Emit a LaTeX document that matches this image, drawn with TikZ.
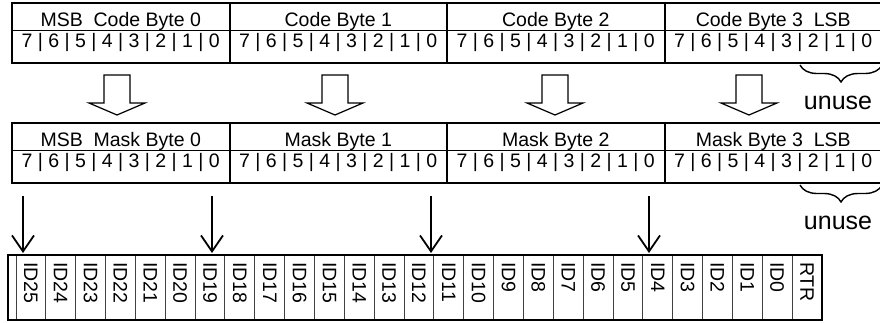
\documentclass[tikz,border=0pt]{standalone}
\usepackage{fontspec}
\setmainfont{Liberation Sans}
\usetikzlibrary{positioning, arrows.meta, decorations.pathreplacing}

\begin{document}
\begin{tikzpicture}[
            x = 1pt, y = -1pt, % pixel units, y grows downwards
            font = \fontsize{19.5}{22}\selectfont,
            node distance = 0pt, % byte cells touch each other
            hdr/.style = {draw, line width = 1pt, outer sep = 0pt, inner sep = 0pt,
                minimum width = 217.5pt, minimum height = 27pt,
                text height = 23pt, text depth = 4pt},
            bits/.style = {hdr, minimum height = 33pt,
                text height = 17pt, text depth = 16pt},
            frame/.style = {line width = 2pt},
            hollow/.style = {draw, line width = 1.2pt, fill = white, line join = miter},
            bitarrow/.style = {-{Straight Barb[length = 16pt, width = 22pt]},
                line width = 1.8pt, shorten > = 2pt},
            idcell/.style = {draw = black!75, line width = 1pt, outer sep = 0pt,
                inner sep = 0pt, minimum width = 29.85pt, minimum height = 65pt},
            idtext/.style = {yshift = -7pt, rotate = -90, anchor = west, inner sep = 0pt},
            unbrace/.style = {decorate, decoration = {brace, mirror, amplitude = 17pt},
                line width = 1.4pt},
            unlabel/.style = {font = \fontsize{25}{28}\selectfont, inner sep = 0pt}
        ]

        \useasboundingbox (0,0) rectangle (880,322);
        \clip (0,0) rectangle (880,322);

        % code bytes
        \node[hdr, anchor = north west] (code0) at (12,3) {MSB~~Code Byte 0};
        \node[hdr] (code1) [right = of code0] {Code Byte 1};
        \node[hdr] (code2) [right = of code1] {Code Byte 2};
        \node[hdr] (code3) [right = of code2] {Code Byte 3~~LSB};
        \node[bits] (codebits0) [below = of code0] {7 | 6 | 5 | 4 | 3 | 2 | 1 | 0};
        \node[bits] (codebits1) [below = of code1] {7 | 6 | 5 | 4 | 3 | 2 | 1 | 0};
        \node[bits] (codebits2) [below = of code2] {7 | 6 | 5 | 4 | 3 | 2 | 1 | 0};
        \node[bits] (codebits3) [below = of code3] {7 | 6 | 5 | 4 | 3 | 2 | 1 | 0};
        \draw[frame] (code0.north west) rectangle (codebits3.south east);
        \draw[frame] (code1.north west) -- (codebits1.south west);
        \draw[frame] (code2.north west) -- (codebits2.south west);
        \draw[frame] (code3.north west) -- (codebits3.south west);

        % mask bytes
        \node[hdr, anchor = north west] (mask0) at (12,123) {MSB~~Mask Byte 0};
        \node[hdr] (mask1) [right = of mask0] {Mask Byte 1};
        \node[hdr] (mask2) [right = of mask1] {Mask Byte 2};
        \node[hdr] (mask3) [right = of mask2] {Mask Byte 3~~LSB};
        \node[bits] (maskbits0) [below = of mask0] {7 | 6 | 5 | 4 | 3 | 2 | 1 | 0};
        \node[bits] (maskbits1) [below = of mask1] {7 | 6 | 5 | 4 | 3 | 2 | 1 | 0};
        \node[bits] (maskbits2) [below = of mask2] {7 | 6 | 5 | 4 | 3 | 2 | 1 | 0};
        \node[bits] (maskbits3) [below = of mask3] {7 | 6 | 5 | 4 | 3 | 2 | 1 | 0};
        \draw[frame] (mask0.north west) rectangle (maskbits3.south east);
        \draw[frame] (mask1.north west) -- (maskbits1.south west);
        \draw[frame] (mask2.north west) -- (maskbits2.south west);
        \draw[frame] (mask3.north west) -- (maskbits3.south west);

        % hollow arrows code -> mask
        \foreach \x in {117, 335, 555, 749}
            \draw[hollow] (\x-13,75) -- (\x+13,75) -- (\x+13,103) -- (\x+28,103)
                -- (\x,115) -- (\x-28,103) -- (\x-13,103) -- cycle;

        % unused bits
        \coordinate (cb2) at (800,65);
        \coordinate (cb0) at (882,65);
        \draw[unbrace] (cb2) -- (cb0);
        \node[unlabel] (unuse1) at (838,103) {unuse};
        \coordinate (mb2) at (800,185);
        \coordinate (mb0) at (882,185);
        \draw[unbrace] (mb2) -- (mb0);
        \node[unlabel] (unuse2) at (838,223) {unuse};

        % identifier bits
        \foreach \n [count = \i from 0] in {ID25,ID24,ID23,ID22,ID21,ID20,ID19,ID18,ID17,
                ID16,ID15,ID14,ID13,ID12,ID11,ID10,ID9,ID8,ID7,ID6,ID5,ID4,ID3,ID2,ID1,ID0,RTR} {
            \node[idcell, anchor = north west] (\n) at (16+\i*29.85,255) {};
            \node[idtext] at (\n.north) {\n};
        }
        \draw[line width = 2.5pt] (8,255) rectangle (RTR.south east);

        % mask bits -> identifier
        \coordinate (m0b7) at (23,196);
        \coordinate (m0b0) at (212,196);
        \coordinate (m1b0) at (431,196);
        \coordinate (m2b0) at (649,196);
        \draw[bitarrow] (m0b7) -- (m0b7 |- ID25.north);
        \draw[bitarrow] (m0b0) -- (m0b0 |- ID19.north);
        \draw[bitarrow] (m1b0) -- (m1b0 |- ID12.north);
        \draw[bitarrow] (m2b0) -- (m2b0 |- ID4.north);

    \end{tikzpicture}
\end{document}
